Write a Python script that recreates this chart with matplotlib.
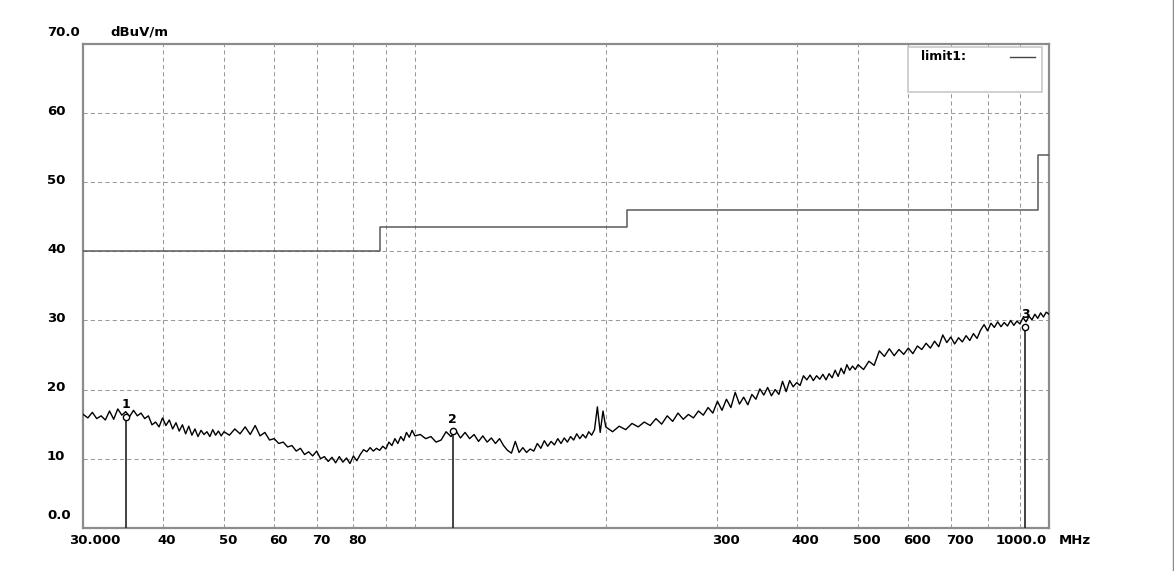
import matplotlib
matplotlib.use('Agg')
import matplotlib.pyplot as plt
from matplotlib.lines import Line2D
from matplotlib.patches import Rectangle

plt.rcParams['font.family'] = ['DejaVu Sans']

# ---- measured trace (MHz, dBuV/m) ----
freq_mhz = [
    30.0, 30.5, 31.0, 31.5, 32.0, 32.5, 33.0, 33.5, 34.0, 34.5,
    35.0, 35.5, 36.0, 36.5, 37.0, 37.5, 38.0, 38.5, 39.0, 39.5,
    40.0, 40.5, 41.0, 41.5, 42.0, 42.5, 43.0, 43.5, 44.0, 44.5,
    45.0, 45.5, 46.0, 46.5, 47.0, 47.5, 48.0, 48.5, 49.0, 49.5,
    50, 51, 52, 53, 54, 55, 56, 57, 58, 59,
    60, 61, 62, 63, 64, 65, 66, 67, 68, 69,
    70, 71, 72, 73, 74, 75, 76, 77, 78, 79,
    80, 81, 82, 83, 84, 85, 86, 87, 88, 89,
    90, 91, 92, 93, 94, 95, 96, 97, 98, 99,
    100, 102, 104, 106, 108, 110, 112, 114, 116, 118,
    120, 122, 124, 126, 128, 130, 132, 134, 136, 138,
    140, 142, 144, 146, 148, 150, 152, 154, 156, 158,
    160, 162, 164, 166, 168, 170, 172, 174, 176, 178,
    180, 182, 184, 186, 188, 190, 192, 194, 196, 198,
    200, 205, 210, 215, 220, 225, 230, 235, 240, 245,
    250, 255, 260, 265, 270, 275, 280, 285, 290, 295,
    300, 305, 310, 315, 320, 325, 330, 335, 340, 345,
    350, 355, 360, 365, 370, 375, 380, 385, 390, 395,
    400, 405, 410, 415, 420, 425, 430, 435, 440, 445,
    450, 455, 460, 465, 470, 475, 480, 485, 490, 495,
    500, 510, 520, 530, 540, 550, 560, 570, 580, 590,
    600, 610, 620, 630, 640, 650, 660, 670, 680, 690,
    700, 710, 720, 730, 740, 750, 760, 770, 780, 790,
    800, 810, 820, 830, 840, 850, 860, 870, 880, 890,
    900, 910, 920, 930, 940, 950, 960, 970, 980, 990,
    1000,
]
level_dbuv = [
    16.4, 15.9, 16.7, 15.8, 16.2, 15.6, 16.9, 15.7, 17.2, 16.3,
    16.8, 16.1, 17.0, 16.2, 16.6, 15.8, 16.2, 14.9, 15.3, 14.6,
    15.9, 14.8, 15.6, 14.3, 15.2, 14.0, 14.9, 13.6, 14.7, 13.4,
    14.3, 13.2, 14.1, 13.5, 13.9, 13.2, 14.2, 13.4, 14.0, 13.3,
    13.9, 13.4, 14.3, 13.6, 14.6, 13.5, 14.8, 13.3, 13.8, 12.7,
    12.9, 12.2, 12.4, 11.7, 11.9, 11.1, 11.5, 10.6, 11.0, 10.4,
    11.1, 10.0, 10.3, 9.6, 10.2, 9.4, 10.3, 9.5, 10.1, 9.3,
    10.4, 9.7, 10.6, 11.3, 11.0, 11.6, 11.1, 11.5, 11.2, 11.8,
    11.4, 12.4, 11.9, 12.9, 12.2, 13.2, 12.6, 13.8, 13.1, 14.1,
    13.3, 13.5, 12.9, 13.2, 12.4, 12.7, 13.9, 13.2, 14.1, 13.0,
    13.8, 12.9, 13.5, 12.5, 13.3, 12.4, 13.0, 12.2, 12.9, 11.9,
    11.2, 10.8, 12.5, 10.9, 11.6, 10.9, 11.4, 11.1, 12.2, 11.5,
    12.6, 11.8, 12.5, 12.0, 12.9, 12.2, 13.0, 12.4, 13.2, 12.7,
    13.6, 12.9, 13.5, 13.0, 13.9, 13.4, 14.2, 17.5, 13.8, 16.9,
    14.6, 13.9, 14.7, 14.2, 15.1, 14.6, 15.3, 14.8, 15.8, 15.0,
    16.2, 15.4, 16.6, 15.7, 16.4, 15.9, 16.9, 16.3, 17.4, 16.6,
    18.3, 17.0, 18.6, 17.4, 19.6, 17.9, 18.9, 17.8, 19.3, 18.6,
    20.1, 19.2, 20.3, 19.1, 20.0, 19.3, 21.2, 19.7, 21.3, 20.4,
    21.0, 20.6, 22.0, 21.4, 22.1, 21.3, 22.0, 21.5, 22.2, 21.4,
    22.3, 21.7, 22.8, 21.9, 23.1, 22.3, 23.6, 22.8, 23.4, 22.9,
    23.6, 22.9, 24.1, 23.5, 25.6, 24.8, 25.9, 24.9, 25.8, 25.1,
    26.0, 25.2, 26.3, 25.8, 26.7, 26.0, 27.0, 26.2, 27.9, 26.8,
    27.6, 26.6, 27.5, 26.9, 27.8, 27.1, 28.1, 27.4, 28.6, 29.4,
    28.5, 29.6, 29.0, 29.8, 29.1, 29.7, 29.2, 30.0, 29.3, 29.9,
    29.5, 30.4, 29.8, 30.6, 30.1, 30.9, 30.3, 31.1, 30.5, 31.2,
    30.9,
]

# ---- limit line ----
limit_freq = [30, 88, 216, 960, 1000]
limit_level = [40, 43.5, 46, 54, 54]

# ---- markers ----
marker_freq = [35.0, 114.7, 918.0]
marker_level = [16.1, 14.0, 29.1]
marker_names = ['1', '2', '3']

# ---- axes ticks ----
x_grid = [40, 50, 60, 70, 80, 90, 100, 200, 300, 400, 500, 600, 700, 800, 900]
x_label_vals = [40, 50, 60, 70, 80, 300, 400, 500, 600, 700]
y_grid = [10, 20, 30, 40, 50, 60]
y_ticks = [0, 10, 20, 30, 40, 50, 60, 70]
y_tick_labels = ['0.0', '10', '20', '30', '40', '50', '60', '70.0']

W, H = 1174, 571
fig = plt.figure(figsize=(W / 100, H / 100), dpi=100)
L, R, T, B = 83.3, 1049.0, 44.0, 527.8
ax = fig.add_axes([L / W, 1 - B / H, (R - L) / W, (B - T) / H])
ax.set_xscale('log')
ax.set_xlim(30, 1000)
ax.set_ylim(0, 70)
ax.set_xticks(x_grid)
ax.set_xticks([], minor=True)
ax.set_yticks(y_grid)
ax.tick_params(which='both', length=0, labelbottom=False, labelleft=False)
ax.set_axisbelow(True)
ax.grid(True, which='major', color='#9a9a9a', linestyle=(0, (4, 3)), linewidth=0.75)
for s in ax.spines.values():
    s.set_color('#8c8c8c')
    s.set_linewidth(1.6)

# limit
ax.step(limit_freq, limit_level, where='post', color='#5a5a5a', lw=1.1, zorder=3)
# trace
ax.plot(freq_mhz, level_dbuv, color='black', lw=1.0, zorder=4)
# markers
ax.vlines(marker_freq, 0, marker_level, color='#333333', lw=1.3, zorder=5)
ax.plot(marker_freq, marker_level, 'o', mfc='white', mec='black', ms=4.5, mew=1.0, zorder=6)
for f, lv, n in zip(marker_freq, marker_level, marker_names):
    ax.annotate(n, (f, lv), xytext=(0, 12), textcoords='offset pixels', ha='center', va='center',
                fontsize=9, fontweight='bold', zorder=7)

txt = dict(fontsize=9.5, fontweight='bold', annotation_clip=False, color='black')
# y labels
for v, t in zip(y_ticks, y_tick_labels):
    dy = 12 if t in ('0.0', '70.0') else 2
    ax.annotate(t, xy=(0, v), xycoords=('axes fraction', 'data'), xytext=(47 - L, dy),
                textcoords='offset pixels', ha='left', va='center', **txt)
ax.annotate('dBuV/m', xy=(0, 70), xycoords=('axes fraction', 'data'), xytext=(110 - L, 12),
            textcoords='offset pixels', ha='left', va='center', **txt)
# x labels
for v in x_label_vals:
    ax.annotate(str(v), xy=(v, 0), xycoords=('data', 'axes fraction'), xytext=(-5, -12.7),
                textcoords='offset pixels', ha='left', va='center', **txt)
ax.annotate('30.000', xy=(30, 0), xycoords=('data', 'axes fraction'), xytext=(-14.4, -12.7),
            textcoords='offset pixels', ha='left', va='center', **txt)
ax.annotate('1000.0', xy=(1000, 0), xycoords=('data', 'axes fraction'), xytext=(-2, -12.7),
            textcoords='offset pixels', ha='right', va='center', **txt)
ax.annotate('MHz', xy=(1000, 0), xycoords=('data', 'axes fraction'), xytext=(10, -12.7),
            textcoords='offset pixels', ha='left', va='center', **txt)

# legend box
fig.add_artist(Rectangle((907.7 / W, 1 - 91.7 / H), (1042 - 907.7) / W, 45 / H,
                         transform=fig.transFigure, facecolor='white', edgecolor='#c8c8c8', lw=1.2,
                         zorder=10))
fig.text(921 / W, 1 - 57 / H, 'limit1:', va='center', ha='left', fontsize=9, fontweight='bold',
         zorder=11)
fig.add_artist(Line2D([1010 / W, 1034.5 / W], [1 - 57 / H, 1 - 57 / H], transform=fig.transFigure,
                      color='#444444', lw=1.0, zorder=11))
# right border of the frame
fig.add_artist(Line2D([1172.5 / W, 1172.5 / W], [0, 1], transform=fig.transFigure,
                      color='#8a8a8a', lw=1.0))

fig.savefig('out.png', dpi=100)
